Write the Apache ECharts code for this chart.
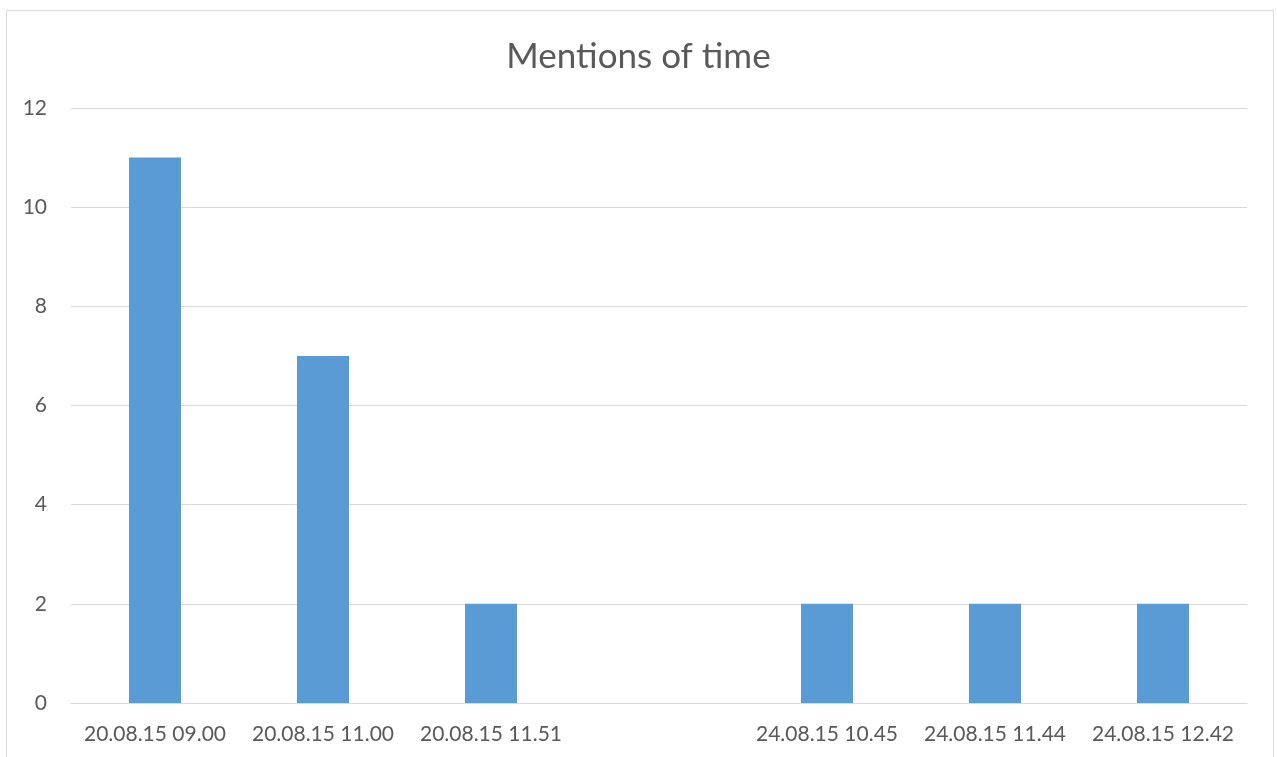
<!DOCTYPE html>
<html>
<head>
    <meta charset="utf-8"/>
    <title>Mentions of time</title>
    <script src="https://cdn.jsdelivr.net/npm/echarts@6/dist/echarts.min.js"></script>
    <style>
        body { margin: 0; background: #fff; overflow: hidden; }
        #frame { position: absolute; left: 6px; top: 10px; width: 1268px; height: 800px; border: 1px solid #d9d9d9; box-sizing: border-box; }
        #myChart { position: absolute; left: 0; top: 0; width: 1277px; height: 757px; }
    </style>
</head>
<body>
<div id="frame"></div>
<div id="myChart"></div>
<script>
    // 数据
    var categories = ['20.08.15 09.00', '20.08.15 11.00', '20.08.15 11.51', '', '24.08.15 10.45', '24.08.15 11.44', '24.08.15 12.42'];
    var mentions = [11, 7, 2, null, 2, 2, 2];
    var yTicks = [0, 2, 4, 6, 8, 10, 12];

    var myChart = echarts.init(document.getElementById('myChart'));
    var option = {
        animation: false,
        title: {
            text: 'Mentions of time',
            left: 'center',
            top: 34,
            textStyle: { fontFamily: 'Lato', fontSize: 35, fontWeight: 'normal', color: '#595959' }
        },
        grid: { left: 71, right: 30, top: 108, bottom: 54 },
        xAxis: {
            type: 'category',
            data: categories,
            axisLine: { lineStyle: { color: '#d9d9d9', width: 1 } },
            axisTick: { show: false },
            axisLabel: { interval: 0, margin: 21, fontFamily: 'Lato', fontSize: 21, color: '#595959' }
        },
        yAxis: {
            type: 'value',
            min: yTicks[0],
            max: yTicks[yTicks.length - 1],
            interval: 2,
            splitLine: { lineStyle: { color: '#d9d9d9', width: 1 } },
            axisLabel: { margin: 24, fontFamily: 'Lato', fontSize: 21, color: '#595959' }
        },
        series: [{
            type: 'bar',
            data: mentions,
            barWidth: 52,
            itemStyle: { color: '#5b9bd5' }
        }]
    };
    myChart.setOption(option);
</script>
</body>
</html>
